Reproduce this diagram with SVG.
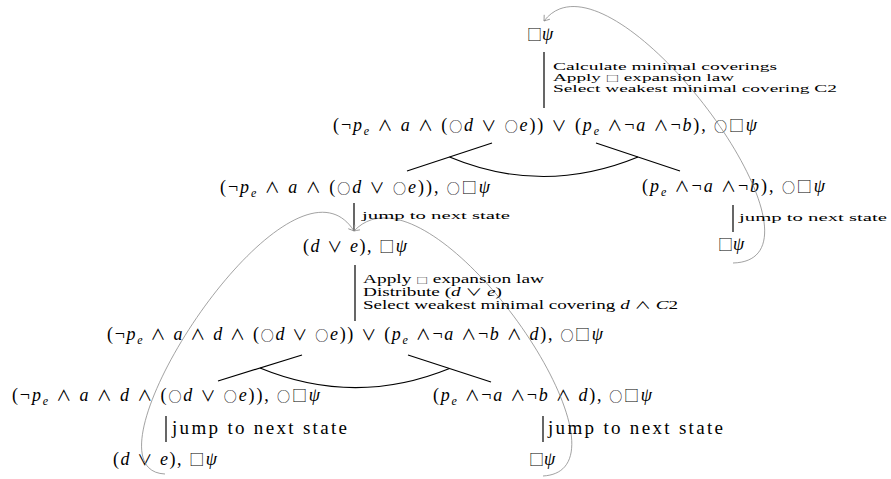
<svg xmlns="http://www.w3.org/2000/svg" width="891" height="479" viewBox="0 0 891 479">
<style>
.m{font-family:"Liberation Serif","DejaVu Serif",serif;font-size:18px;fill:#000}
.i{font-style:italic}
.s{font-size:12px;font-style:italic}
.o{font-family:"Noto Sans CJK JP","DejaVu Sans",sans-serif;font-size:15px}
.c{font-family:"Noto Sans CJK JP","DejaVu Sans",sans-serif;font-size:13px}
.q{font-family:"Noto Sans CJK JP","DejaVu Sans",sans-serif;font-size:15px}
.so{font-family:"Noto Sans CJK JP","DejaVu Sans",sans-serif;font-size:10px}
.sq{font-family:"Noto Sans CJK JP","DejaVu Sans",sans-serif;font-size:7px}
.l1{font-family:"Liberation Serif","DejaVu Serif",serif;font-size:10px;fill:#000}
.l2{font-family:"Liberation Serif","DejaVu Serif",serif;font-size:11.5px;fill:#000}
.l3{font-family:"Liberation Serif","DejaVu Serif",serif;font-size:19px;fill:#000}
.edge{stroke:#000;stroke-width:1.2;fill:none}
.loop{stroke:#8a8a8a;stroke-width:0.8;fill:none;marker-end:url(#arr)}
</style>
<defs>
<marker id="arr" markerUnits="userSpaceOnUse" viewBox="-6 -5 8 10" refX="0" refY="0" markerWidth="8" markerHeight="10" orient="auto">
<path d="M-5,-3.6 Q-1.5,-1 0,0 Q-1.5,1 -5,3.6" fill="none" stroke="#8a8a8a" stroke-width="0.8"/>
</marker>
</defs>
<g id="n0"><text class="m" x="527" y="40"><tspan class="q">□</tspan><tspan class="i">ψ</tspan></text></g>
<g id="n1"><text class="m" x="333" y="131" textLength="424" lengthAdjust="spacing">(¬<tspan class="i">p</tspan><tspan class="s" dy="4">e</tspan><tspan dy="-4"> </tspan><tspan class="o">∧</tspan> <tspan class="i">a</tspan> <tspan class="o">∧</tspan> (<tspan class="c">○</tspan><tspan class="i">d</tspan> <tspan class="o">∨</tspan> <tspan class="c">○</tspan><tspan class="i">e</tspan>)) <tspan class="o">∨</tspan> (<tspan class="i">p</tspan><tspan class="s" dy="4">e</tspan><tspan dy="-4"> </tspan><tspan class="o">∧</tspan>¬<tspan class="i">a</tspan> <tspan class="o">∧</tspan>¬<tspan class="i">b</tspan>), <tspan class="c">○</tspan><tspan class="q">□</tspan><tspan class="i">ψ</tspan></text></g>
<g id="n2"><text class="m" x="220" y="193" textLength="270" lengthAdjust="spacing">(¬<tspan class="i">p</tspan><tspan class="s" dy="4">e</tspan><tspan dy="-4"> </tspan><tspan class="o">∧</tspan> <tspan class="i">a</tspan> <tspan class="o">∧</tspan> (<tspan class="c">○</tspan><tspan class="i">d</tspan> <tspan class="o">∨</tspan> <tspan class="c">○</tspan><tspan class="i">e</tspan>)), <tspan class="c">○</tspan><tspan class="q">□</tspan><tspan class="i">ψ</tspan></text></g>
<g id="n3"><text class="m" x="642" y="192" textLength="183" lengthAdjust="spacing">(<tspan class="i">p</tspan><tspan class="s" dy="4">e</tspan><tspan dy="-4"> </tspan><tspan class="o">∧</tspan>¬<tspan class="i">a</tspan> <tspan class="o">∧</tspan>¬<tspan class="i">b</tspan>), <tspan class="c">○</tspan><tspan class="q">□</tspan><tspan class="i">ψ</tspan></text></g>
<g id="n4"><text class="m" x="303" y="252" textLength="104" lengthAdjust="spacing">(<tspan class="i">d</tspan> <tspan class="o">∨</tspan> <tspan class="i">e</tspan>), <tspan class="q">□</tspan><tspan class="i">ψ</tspan></text></g>
<g id="n5"><text class="m" x="718" y="250"><tspan class="q">□</tspan><tspan class="i">ψ</tspan></text></g>
<g id="n6"><text class="m" x="107" y="340" textLength="496" lengthAdjust="spacing">(¬<tspan class="i">p</tspan><tspan class="s" dy="4">e</tspan><tspan dy="-4"> </tspan><tspan class="o">∧</tspan> <tspan class="i">a</tspan> <tspan class="o">∧</tspan> <tspan class="i">d</tspan> <tspan class="o">∧</tspan> (<tspan class="c">○</tspan><tspan class="i">d</tspan> <tspan class="o">∨</tspan> <tspan class="c">○</tspan><tspan class="i">e</tspan>)) <tspan class="o">∨</tspan> (<tspan class="i">p</tspan><tspan class="s" dy="4">e</tspan><tspan dy="-4"> </tspan><tspan class="o">∧</tspan>¬<tspan class="i">a</tspan> <tspan class="o">∧</tspan>¬<tspan class="i">b</tspan> <tspan class="o">∧</tspan> <tspan class="i">d</tspan>), <tspan class="c">○</tspan><tspan class="q">□</tspan><tspan class="i">ψ</tspan></text></g>
<g id="n7"><text class="m" x="12" y="401" textLength="308" lengthAdjust="spacing">(¬<tspan class="i">p</tspan><tspan class="s" dy="4">e</tspan><tspan dy="-4"> </tspan><tspan class="o">∧</tspan> <tspan class="i">a</tspan> <tspan class="o">∧</tspan> <tspan class="i">d</tspan> <tspan class="o">∧</tspan> (<tspan class="c">○</tspan><tspan class="i">d</tspan> <tspan class="o">∨</tspan> <tspan class="c">○</tspan><tspan class="i">e</tspan>)), <tspan class="c">○</tspan><tspan class="q">□</tspan><tspan class="i">ψ</tspan></text></g>
<g id="n8"><text class="m" x="433" y="401" textLength="219" lengthAdjust="spacing">(<tspan class="i">p</tspan><tspan class="s" dy="4">e</tspan><tspan dy="-4"> </tspan><tspan class="o">∧</tspan>¬<tspan class="i">a</tspan> <tspan class="o">∧</tspan>¬<tspan class="i">b</tspan> <tspan class="o">∧</tspan> <tspan class="i">d</tspan>), <tspan class="c">○</tspan><tspan class="q">□</tspan><tspan class="i">ψ</tspan></text></g>
<g id="n9"><text class="m" x="113" y="465" textLength="104" lengthAdjust="spacing">(<tspan class="i">d</tspan> <tspan class="o">∨</tspan> <tspan class="i">e</tspan>), <tspan class="q">□</tspan><tspan class="i">ψ</tspan></text></g>
<g id="n10"><text class="m" x="529" y="465"><tspan class="q">□</tspan><tspan class="i">ψ</tspan></text></g>
<g id="connectors">
<line class="edge" x1="544" y1="52" x2="544" y2="108"/>
<line class="edge" x1="492" y1="143" x2="407" y2="171"/>
<line class="edge" x1="596" y1="143" x2="680" y2="171"/>
<path class="edge" d="M449.5,157 Q543,196 638,157"/>
<line class="edge" x1="354" y1="203" x2="354" y2="231"/>
<line class="edge" x1="733" y1="205" x2="733" y2="232"/>
<line class="edge" x1="355" y1="265" x2="355" y2="321"/>
<line class="edge" x1="302" y1="355" x2="218" y2="381"/>
<line class="edge" x1="408" y1="355" x2="491" y2="382"/>
<path class="edge" d="M260,368 Q355,407 449.5,368.5"/>
<line class="edge" x1="166" y1="416" x2="166" y2="442"/>
<line class="edge" x1="543" y1="416" x2="543" y2="442"/>
<path class="loop" d="M733,263 C850,260 610,-65 544,21"/>
<path class="loop" d="M543,476 C650,470 430,150 354,231"/>
<path class="loop" d="M165,474 C70,470 290,130 354,231"/>
</g>
<g id="labels">
<text class="l1" x="553" y="70" textLength="224" lengthAdjust="spacingAndGlyphs">Calculate minimal coverings</text>
<text class="l1" x="553" y="81" textLength="181" lengthAdjust="spacingAndGlyphs">Apply <tspan class="sq">□</tspan> expansion law</text>
<text class="l1" x="553" y="91.5" textLength="284" lengthAdjust="spacingAndGlyphs">Select weakest minimal covering C2</text>
<text class="l1" x="362" y="219" textLength="148" lengthAdjust="spacingAndGlyphs">jump to next state</text>
<text class="l1" x="739" y="221" textLength="148" lengthAdjust="spacingAndGlyphs">jump to next state</text>
<text class="l2" x="363" y="283" textLength="181" lengthAdjust="spacingAndGlyphs">Apply <tspan class="sq">□</tspan> expansion law</text>
<text class="l2" x="363" y="296" textLength="139" lengthAdjust="spacingAndGlyphs">Distribute (<tspan font-style="italic">d</tspan> <tspan class="so">∨</tspan> <tspan font-style="italic">e</tspan>)</text>
<text class="l2" x="363" y="309" textLength="315" lengthAdjust="spacingAndGlyphs">Select weakest minimal covering <tspan font-style="italic">d</tspan> <tspan class="so">∧</tspan> <tspan font-style="italic">C</tspan>2</text>
<text class="l3" x="172" y="434" textLength="175" lengthAdjust="spacing">jump to next state</text>
<text class="l3" x="548" y="434" textLength="175" lengthAdjust="spacing">jump to next state</text>
</g>
</svg>
